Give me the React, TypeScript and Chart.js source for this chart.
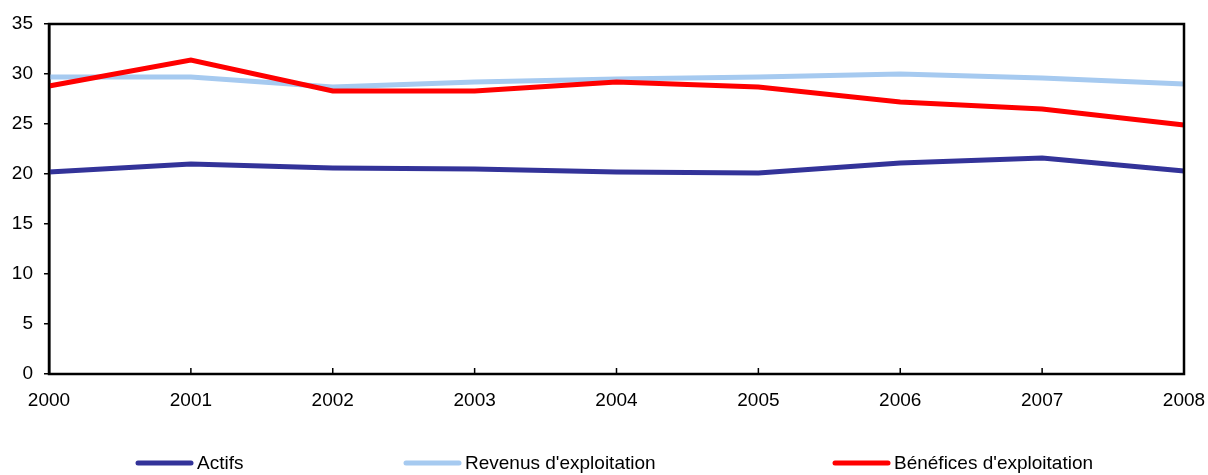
import React, { useEffect, useRef } from "react";
import { Chart, registerables } from "chart.js";

Chart.register(...registerables);

const years = ["2000", "2001", "2002", "2003", "2004", "2005", "2006", "2007", "2008"];
const actifs = [20.2, 21.0, 20.6, 20.5, 20.2, 20.1, 21.1, 21.6, 20.3];
const revenus = [29.7, 29.7, 28.7, 29.2, 29.5, 29.7, 30.0, 29.6, 29.0];
const benefices = [28.8, 31.4, 28.3, 28.3, 29.2, 28.7, 27.2, 26.5, 24.9];
const seriesNames = ["Actifs", "Revenus d'exploitation", "Bénéfices d'exploitation"];
const seriesColors = ["#333399", "#A6CAF0", "#FF0000"];
const legendStarts = [138, 406, 835];

const FONT = "'Liberation Sans', Arial, sans-serif";

const framePlugin = {
  id: "frame",
  afterDraw(chart: any) {
    const { ctx, chartArea } = chart;
    const xs = chart.scales.x;
    ctx.save();
    ctx.strokeStyle = "#000";
    ctx.lineWidth = 2.5;
    ctx.strokeRect(chartArea.left, chartArea.top, chartArea.right - chartArea.left, chartArea.bottom - chartArea.top);
    ctx.lineWidth = 1.5;
    for (let i = 1; i < years.length - 1; i++) {
      const x = xs.getPixelForValue(i);
      ctx.beginPath();
      ctx.moveTo(x, chartArea.bottom);
      ctx.lineTo(x, chartArea.bottom - 6);
      ctx.stroke();
    }
    // legend
    const ly = 463;
    ctx.font = `19px ${FONT}`;
    ctx.textBaseline = "middle";
    ctx.textAlign = "left";
    for (let i = 0; i < seriesNames.length; i++) {
      const x0 = legendStarts[i];
      ctx.strokeStyle = seriesColors[i];
      ctx.lineWidth = 5;
      ctx.lineCap = "round";
      ctx.beginPath();
      ctx.moveTo(x0, ly);
      ctx.lineTo(x0 + 53, ly);
      ctx.stroke();
      ctx.fillStyle = "#000";
      ctx.fillText(seriesNames[i], x0 + 59, ly + 1);
    }
    ctx.restore();
  },
};

export default function App() {
  const ref = useRef<HTMLCanvasElement | null>(null);
  useEffect(() => {
    if (!ref.current) return;
    const data = [actifs, revenus, benefices];
    const orders = [2, 1, 0];
    const chart = new Chart(ref.current, {
      type: "line",
      data: {
        labels: years,
        datasets: data.map((d, i) => ({
          label: seriesNames[i],
          data: d,
          borderColor: seriesColors[i],
          backgroundColor: seriesColors[i],
          borderWidth: 5,
          pointRadius: 0,
          tension: 0,
          fill: false,
          order: orders[i],
        })),
      },
      options: {
        responsive: false,
        animation: false,
        devicePixelRatio: 1,
        layout: { padding: { top: 24, right: 24, left: 0, bottom: 0 } },
        plugins: {
          legend: { display: false },
          tooltip: { enabled: false },
        },
        scales: {
          x: {
            type: "category",
            offset: false,
            grid: { display: false, drawTicks: false },
            border: { display: false },
            ticks: {
              color: "#000",
              padding: 15,
              maxRotation: 0,
              autoSkip: false,
              font: { family: FONT, size: 19 },
            },
            afterFit(scale: any) {
              scale.height = 101;
              scale.paddingLeft = 0;
              scale.paddingRight = 0;
            },
          },
          y: {
            min: 0,
            max: 35,
            grid: {
              display: true,
              drawOnChartArea: false,
              drawTicks: true,
              tickLength: 5,
              color: "#000",
              lineWidth: 1.5,
            },
            border: { display: true, color: "#000", width: 2.5 },
            ticks: {
              stepSize: 5,
              color: "#000",
              padding: 11,
              font: { family: FONT, size: 19 },
            },
            afterFit(scale: any) {
              scale.width = 49;
              scale.paddingTop = 0;
              scale.paddingBottom = 0;
            },
          },
        },
      },
      plugins: [framePlugin],
    });
    return () => chart.destroy();
  }, []);
  return (
    <div style={{ position: "absolute", left: 0, top: 0, width: 1208, height: 475, background: "#fff" }}>
      <canvas ref={ref} width={1208} height={475} style={{ display: "block" }} />
    </div>
  );
}
